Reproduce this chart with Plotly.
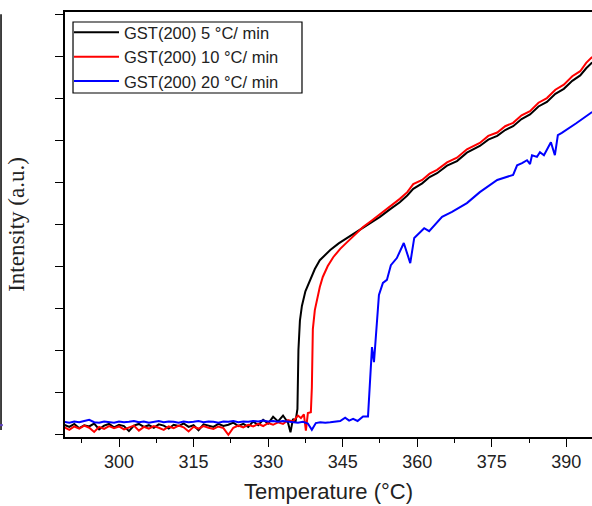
import plotly.graph_objects as go

# ---- data ----
t_5 = [289, 290, 291, 292, 293, 294, 295, 296, 297, 298, 299, 300, 301, 302, 303, 304, 305, 306, 307, 308,
       309, 310, 311, 312, 313, 314, 315, 316, 317, 318, 319, 320, 321, 322, 323, 324, 325, 326, 327, 328,
       329, 330, 331, 332, 333, 334, 334.5, 335, 335.5, 335.9, 336.1, 336.4, 336.8, 337.5, 338.4, 339.4,
       340.4, 341.5, 342.5, 344.2, 345.9, 347.5, 349.1, 350.8, 352.5, 354.5, 356.5, 358, 359.2, 361, 362.5,
       364, 366, 368, 370, 372.6, 374.3, 376.1, 377.7, 379.3, 381, 382.7, 384.4, 386.1, 387.8, 389.5, 391.2,
       392.8, 394, 395.2]
i_5 = [0.22, 0.17, 0.24, 0.14, 0.21, 0.18, 0.25, 0.11, 0.20, 0.24, 0.16, 0.22, 0.19, 0.07, 0.20, 0.24, 0.17,
       0.21, 0.15, 0.23, 0.20, 0.13, 0.22, 0.19, 0.25, 0.17, 0.21, 0.09, 0.23, 0.20, 0.17, 0.24, 0.19, 0.22,
       0.27, 0.19, 0.24, 0.17, 0.30, 0.21, 0.34, 0.25, 0.41, 0.30, 0.44, 0.27, 0.04, 0.36, 0.28, 0.60, 2.00,
       2.70, 3.05, 3.40, 3.67, 3.93, 4.14, 4.27, 4.38, 4.54, 4.67, 4.80, 4.93, 5.05, 5.17, 5.35, 5.52, 5.68,
       5.84, 5.97, 6.12, 6.21, 6.39, 6.50, 6.70, 6.86, 7.01, 7.10, 7.24, 7.33, 7.50, 7.61, 7.80, 7.91, 8.10,
       8.22, 8.41, 8.54, 8.71, 8.85]

t_10 = [289, 290, 291, 292, 293, 294, 295, 296, 297, 298, 299, 300, 301, 302, 303, 304, 305, 306, 307, 308,
        309, 310, 311, 312, 313, 314, 315, 316, 317, 318, 319, 320, 321, 322, 323, 324, 325, 326, 327, 328,
        329, 330, 331, 332, 333, 334, 335, 336, 336.6, 337.2, 337.6, 338.0, 338.6, 338.8, 339.0, 339.4,
        339.8, 340.4, 341.0, 342.0, 343.1, 344.5, 345.9, 347.5, 349.1, 350.8, 352.5, 354.5, 356.5, 358,
        359.2, 361, 362.5, 364, 366, 368, 370, 372.6, 374.3, 376.1, 377.7, 379.3, 381, 382.7, 384.4, 386.1,
        387.8, 389.5, 391.2, 392.8, 394, 395.2]
i_10 = [0.16, 0.10, 0.18, 0.13, 0.20, 0.15, 0.05, 0.17, 0.12, 0.19, 0.14, 0.18, 0.11, 0.16, 0.20, 0.08, 0.17,
        0.13, 0.19, 0.15, 0.10, 0.18, 0.14, 0.20, 0.16, 0.06, 0.17, 0.13, 0.19, 0.15, 0.12, 0.18, 0.14, -0.02,
        0.15, 0.20, 0.16, 0.22, 0.18, 0.24, 0.19, 0.26, 0.22, 0.28, 0.24, 0.33, 0.30, 0.44, 0.38, 0.47, 0.08,
        0.50, 0.52, 1.10, 2.50, 2.95, 3.19, 3.50, 3.74, 4.00, 4.21, 4.41, 4.57, 4.76, 4.93, 5.08, 5.23, 5.41,
        5.60, 5.76, 5.95, 6.05, 6.20, 6.29, 6.47, 6.58, 6.78, 6.93, 7.10, 7.18, 7.33, 7.41, 7.59, 7.69, 7.89,
        8.00, 8.20, 8.32, 8.52, 8.64, 8.84, 8.98]

t_20 = [289, 290, 291, 292, 293, 294, 295, 296, 297, 298, 299, 300, 301, 302, 303, 304, 305, 306, 307, 308,
        309, 310, 311, 312, 313, 314, 315, 316, 317, 318, 319, 320, 321, 322, 323, 324, 325, 326, 327, 328,
        329, 330, 331, 332, 333, 334, 335, 336, 337, 338, 338.8, 339.6, 340.5, 341.5, 342.5, 343.5, 344.5,
        345.5, 346.3, 347.1, 348, 349.1, 350.1, 350.9, 351.3, 352.3, 353.1, 353.9, 354.7, 355.9, 357.3,
        358.6, 359.4, 361.4, 362.4, 365.0, 367.0, 370.0, 372.6, 376.1, 379.3, 380.1, 381.1, 382.1, 382.7,
        383.1, 384.1, 384.7, 385.5, 386.9, 387.7, 388.3, 389.1, 392.0, 395.2]
i_20 = [0.29, 0.27, 0.30, 0.28, 0.31, 0.34, 0.28, 0.27, 0.30, 0.29, 0.27, 0.30, 0.28, 0.29, 0.31, 0.28, 0.30,
        0.27, 0.29, 0.31, 0.28, 0.30, 0.29, 0.27, 0.30, 0.28, 0.29, 0.31, 0.28, 0.30, 0.29, 0.27, 0.30, 0.29,
        0.31, 0.28, 0.30, 0.29, 0.31, 0.30, 0.32, 0.30, 0.31, 0.29, 0.31, 0.30, 0.28, 0.27, 0.29, 0.25, 0.10,
        0.26, 0.28, 0.27, 0.28, 0.30, 0.31, 0.39, 0.32, 0.36, 0.31, 0.42, 0.42, 2.07, 1.71, 3.31, 3.60, 3.67,
        4.02, 4.19, 4.55, 4.07, 4.67, 4.90, 4.83, 5.17, 5.29, 5.50, 5.76, 6.05, 6.17, 6.40, 6.45, 6.52, 6.43,
        6.64, 6.60, 6.71, 6.64, 6.95, 6.64, 7.12, 7.17, 7.40, 7.67]

series_names = ["GST(200) 5 °C/ min", "GST(200) 10 °C/ min", "GST(200) 20 °C/ min"]
series_colors = ["#000000", "#ff0000", "#0000ff"]

x_ticks = [300, 315, 330, 345, 360, 375, 390]
x_range = [289.13, 395.17]
y_range = [-0.071, 10.05]

fig = go.Figure()
for t, v, name, col in zip([t_5, t_10, t_20], [i_5, i_10, i_20], series_names, series_colors):
    fig.add_trace(go.Scatter(x=t, y=v, mode="lines", name=name,
                             line=dict(color=col, width=2)))

fig.update_layout(
    width=592, height=506,
    margin=dict(l=65, r=0, t=12, b=69, autoexpand=False),
    paper_bgcolor="white", plot_bgcolor="white",
    showlegend=True,
    legend=dict(x=0.0076, y=0.993, xanchor="left", yanchor="top",
                borderwidth=0, bgcolor="rgba(0,0,0,0)",
                font=dict(family="Arial, Liberation Sans", size=16.5, color="#222"),
                itemwidth=45, tracegroupgap=0),
    font=dict(family="Arial, Liberation Sans", color="#222"),
)
fig.update_xaxes(
    range=x_range, tickvals=x_ticks, ticks="outside", ticklen=8, tickwidth=1.2,
    tickcolor="black", showline=True, linecolor="black", linewidth=1.5, mirror=True,
    showgrid=False, zeroline=False, automargin=False,
    tickfont=dict(family="Arial, Liberation Sans", size=18, color="#222"),
    minor=dict(dtick=7.5, tick0=300, ticks="outside", ticklen=4, tickcolor="black", tickwidth=1.2),
    title=dict(text="Temperature (°C)", font=dict(family="Arial, Liberation Sans", size=22, color="#222"),
               standoff=12),
)
fig.update_yaxes(
    range=y_range, dtick=1, tick0=0, ticks="outside", ticklen=8, tickwidth=1.2,
    tickcolor="black", showticklabels=False, showline=True, linecolor="black", linewidth=1.5,
    mirror=False, showgrid=False, zeroline=False, automargin=False,
    title=dict(text="Intensity (a.u.)", font=dict(family="Times New Roman, Liberation Serif", size=23, color="#222"),
               standoff=24),
)

# legend frame
fig.add_shape(type="rect", xref="paper", yref="paper", x0=0.0152, x1=0.4497, y0=0.8094, y1=0.9765,
              line=dict(color="black", width=1.2), fillcolor="rgba(0,0,0,0)")

# edge of neighbouring panel visible at the left
fig.add_shape(type="line", xref="paper", yref="paper", x0=-0.1214, x1=-0.1214, y0=0.0165, y1=0.995,
              line=dict(color="black", width=1.5))
fig.add_shape(type="line", xref="paper", yref="paper", x0=-0.1233, x1=-0.118, y0=0.028, y1=0.028,
              line=dict(color="#6040c0", width=2))

fig.write_html("out.html", config={"displayModeBar": False},
               post_script="document.body.style.margin='0';document.body.style.overflow='hidden';")
